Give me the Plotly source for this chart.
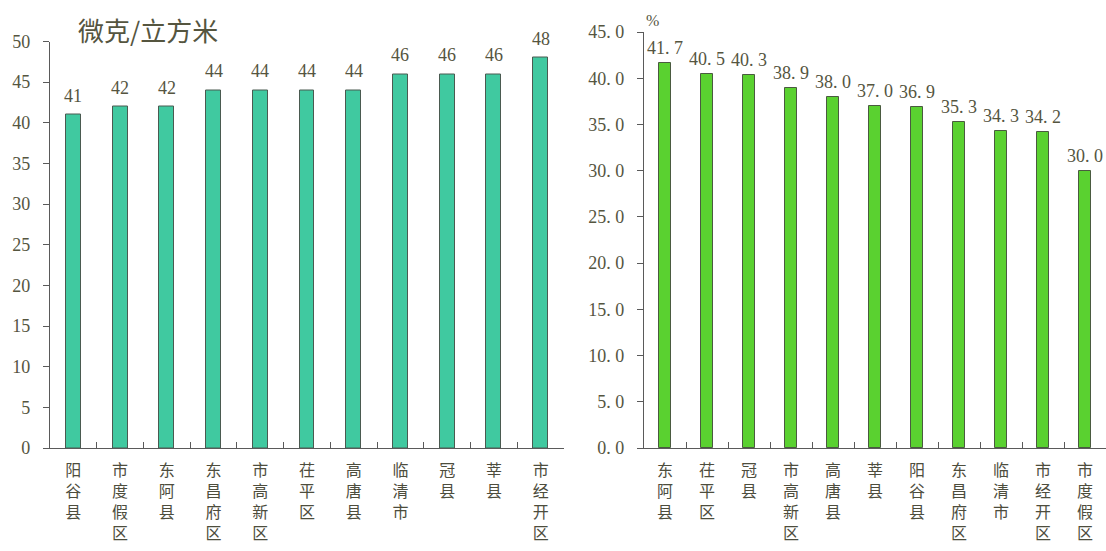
import plotly.graph_objects as go

# ---- data ----
left_categories = ["阳谷县", "市度假区", "东阿县", "东昌府区", "市高新区", "茌平区",
                   "高唐县", "临清市", "冠县", "莘县", "市经开区"]
left_values = [41, 42, 42, 44, 44, 44, 44, 46, 46, 46, 48]
left_ticks = [0, 5, 10, 15, 20, 25, 30, 35, 40, 45, 50]

right_categories = ["东阿县", "茌平区", "冠县", "市高新区", "高唐县", "莘县",
                    "阳谷县", "东昌府区", "临清市", "市经开区", "市度假区"]
right_values = [41.7, 40.5, 40.3, 38.9, 38.0, 37.0, 36.9, 35.3, 34.3, 34.2, 30.0]
right_ticks = [0, 5, 10, 15, 20, 25, 30, 35, 40, 45]

left_unit = "微克/立方米"
right_unit = "%"

# ---- styling ----
W, H = 1106, 551
FONT = "Liberation Serif, Times New Roman, Noto Sans CJK SC, serif"
CJK = "Noto Sans CJK SC, Liberation Serif, serif"
TXT = "#55553f"
AX = "#5a5a5a"
LEFT_FILL = "#40c9a0"
RIGHT_FILL = "#5ad130"


def fmt1(v):
    return f"{v:.1f}".replace(".", ". ")


def vert(s):
    return "<br>".join(list(s))


fig = go.Figure()

fig.add_trace(go.Bar(
    x=left_categories, y=left_values, xaxis="x", yaxis="y",
    width=0.32, marker=dict(color=LEFT_FILL, line=dict(color="#4a5a50", width=1)),
    showlegend=False, hoverinfo="skip",
))
fig.add_trace(go.Bar(
    x=right_categories, y=right_values, xaxis="x2", yaxis="y2",
    width=0.30, marker=dict(color=RIGHT_FILL, line=dict(color="#4a5a40", width=1)),
    showlegend=False, hoverinfo="skip",
))

annotations = []
for c, v in zip(left_categories, left_values):
    annotations.append(dict(x=c, y=v, xref="x", yref="y", text=str(v), showarrow=False,
                            yanchor="bottom", yshift=7,
                            font=dict(family=FONT, size=18, color=TXT)))
for c, v in zip(right_categories, right_values):
    annotations.append(dict(x=c, y=v, xref="x2", yref="y2", text=fmt1(v), showarrow=False,
                            yanchor="bottom", yshift=3,
                            font=dict(family=FONT, size=18, color=TXT)))

annotations.append(dict(x=76 / W, y=(H - 30) / H, xref="paper", yref="paper", text=left_unit,
                        showarrow=False, xanchor="left", yanchor="middle",
                        font=dict(family=CJK, size=26, color=TXT)))
annotations.append(dict(x=644 / W, y=(H - 21) / H, xref="paper", yref="paper", text=right_unit,
                        showarrow=False, xanchor="left", yanchor="middle",
                        font=dict(family=FONT, size=16, color=TXT)))

xcommon = dict(type="category", range=[-0.5, 10.5], showline=True, linecolor=AX, linewidth=1.2,
               ticks="", showgrid=False, zeroline=False, tickangle=0, ticklabelstandoff=8,
               automargin=False,
               tickfont=dict(family=CJK, size=16, color="#4d4d3d"), fixedrange=True)

# boundary tick marks between categories, via overlay linear axes
tickcommon = dict(type="linear", range=[-0.5, 10.5], showline=False, showgrid=False,
                  zeroline=False, showticklabels=False, ticks="inside", ticklen=6,
                  tickcolor=AX, tickwidth=1.2, automargin=False, fixedrange=True)
left_bounds = [i + 0.5 for i in range(len(left_categories))]
right_bounds = [i + 0.5 for i in range(len(right_categories))]

ycommon = dict(showline=True, linecolor=AX, linewidth=1.2, ticks="outside", ticklen=6,
               tickcolor=AX, tickwidth=1.2, showgrid=False, zeroline=False,
               ticklabelstandoff=9, automargin=False,
               tickfont=dict(family=FONT, size=18, color=TXT), fixedrange=True)

fig.update_layout(
    width=W, height=H,
    margin=dict(l=0, r=0, t=0, b=0, autoexpand=False),
    paper_bgcolor="white", plot_bgcolor="white",
    bargap=0,
    xaxis=dict(domain=[50 / W, 564 / W], anchor="y",
               tickvals=left_categories, ticktext=[vert(c) for c in left_categories], **xcommon),
    yaxis=dict(domain=[(H - 448) / H, (H - 41.5) / H], anchor="x", range=[0, 50],
               tickvals=left_ticks, ticktext=[str(t) for t in left_ticks], **ycommon),
    xaxis2=dict(domain=[644 / W, 1.0], anchor="y2",
                tickvals=right_categories, ticktext=[vert(c) for c in right_categories], **xcommon),
    yaxis2=dict(domain=[(H - 448) / H, (H - 32) / H], anchor="x2", range=[0, 45],
                tickvals=right_ticks, ticktext=[fmt1(t) for t in right_ticks], **ycommon),
    xaxis3=dict(domain=[50 / W, 564 / W], anchor="y", overlaying="x", tickvals=left_bounds,
                **tickcommon),
    xaxis4=dict(domain=[644 / W, 1.0], anchor="y2", overlaying="x2", tickvals=right_bounds,
                **tickcommon),
    annotations=annotations,
)

# invisible traces so the overlay tick axes are drawn
fig.add_trace(go.Scatter(x=[left_bounds[0]], y=[0], xaxis="x3", yaxis="y", mode="markers",
                         marker=dict(opacity=0), showlegend=False, hoverinfo="skip"))
fig.add_trace(go.Scatter(x=[right_bounds[0]], y=[0], xaxis="x4", yaxis="y2", mode="markers",
                         marker=dict(opacity=0), showlegend=False, hoverinfo="skip"))

fig.write_html("out.html", post_script="document.body.style.margin='0';",
               config={"displayModeBar": False})
